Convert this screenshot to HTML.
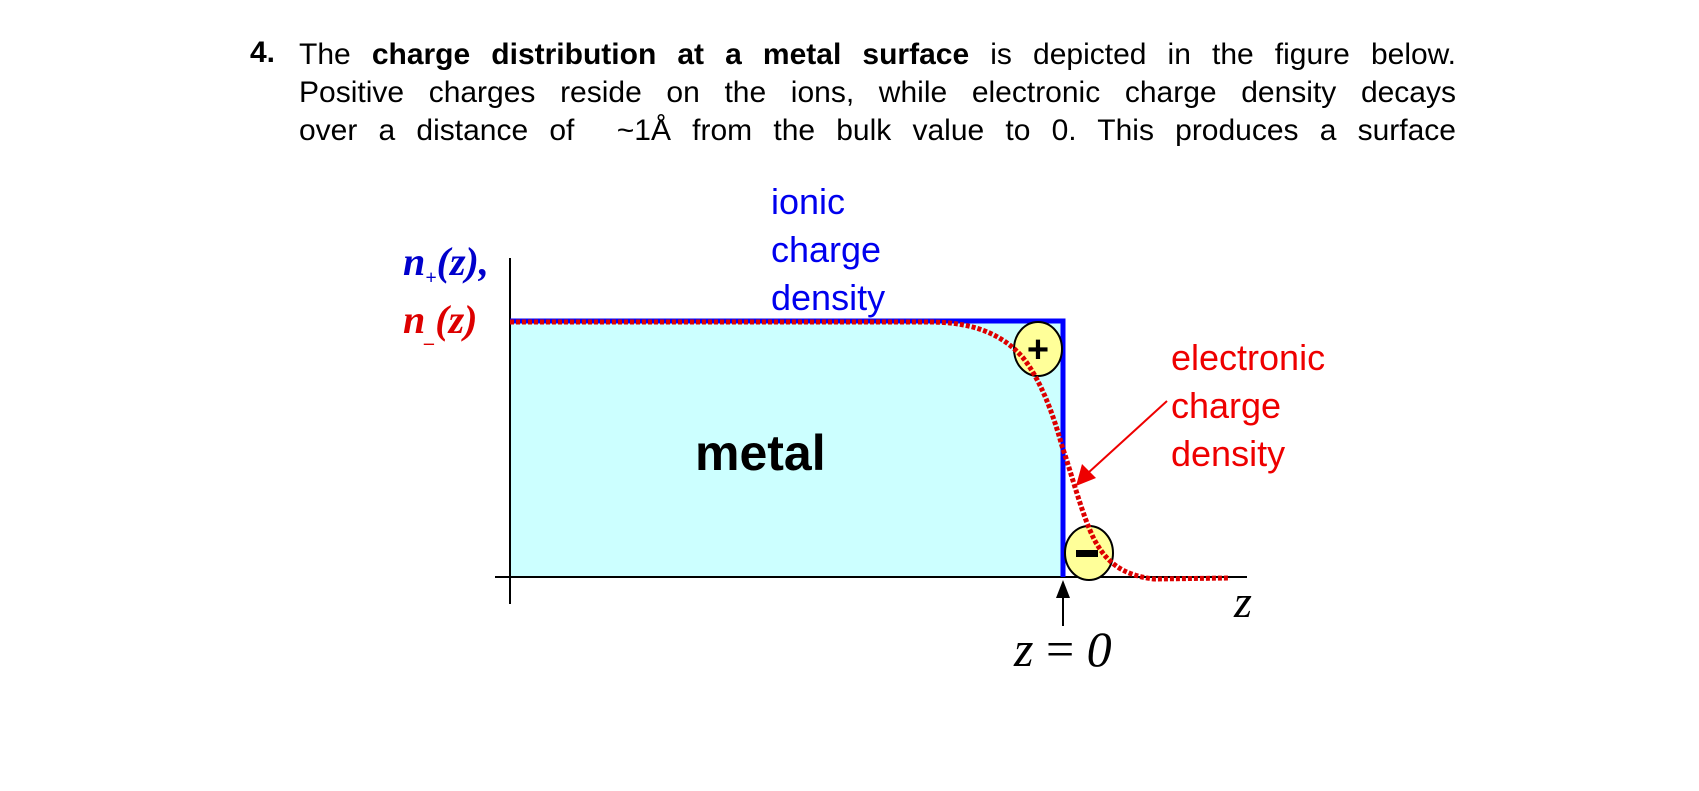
<!DOCTYPE html>
<html><head><meta charset="utf-8"><style>
body{margin:0;width:1699px;height:791px;background:#fff;position:relative;overflow:hidden;font-family:"Liberation Sans",Arial,sans-serif;}
.t{position:absolute;left:299px;width:1157px;font-size:30px;line-height:38px;text-align:justify;text-align-last:justify;white-space:nowrap;}
.lab{position:absolute;font-size:36px;line-height:48px;}
.m{position:absolute;font-family:"Liberation Serif",serif;font-style:italic;}
</style></head><body>
<div style="position:absolute;left:250px;top:36px;font-size:30px;font-weight:bold;">4.</div>
<div class="t" style="top:36px;">The <b>charge distribution at a metal surface</b> is depicted in the figure below.</div>
<div class="t" style="top:74px;">Positive charges reside on the ions, while electronic charge density decays</div>
<div class="t" style="top:112px;">over a distance of &nbsp;~1Å from the bulk value to 0. This produces a surface</div>

<svg width="1699" height="791" style="position:absolute;left:0;top:0">
<rect x="510" y="321" width="553" height="256" fill="#ccffff"/>
<line x1="510" y1="258" x2="510" y2="604" stroke="#000" stroke-width="2"/>
<line x1="495" y1="577" x2="1247" y2="577" stroke="#000" stroke-width="2"/>
<polyline points="510,321 1063,321 1063,577" fill="none" stroke="#0000ff" stroke-width="5"/>
<ellipse cx="1038" cy="349" rx="24" ry="27" fill="#ffff99" stroke="#000" stroke-width="2"/>
<text x="1038" y="362" font-size="38" font-weight="bold" text-anchor="middle" font-family="Liberation Sans">+</text>
<ellipse cx="1089" cy="553" rx="24" ry="27" fill="#ffff99" stroke="#000" stroke-width="2"/>
<rect x="1076" y="550" width="22" height="7" fill="#000"/>
<path d="M510,322 L930,322 C965,322 1000,330 1024,359 C1040,380 1052,410 1062,446 C1072,475 1082,515 1094,539 C1105,560 1120,575 1154,579 L1230,578" fill="none" stroke="#dd0000" stroke-width="5" stroke-dasharray="4,2"/>
<line x1="1167" y1="401" x2="1088" y2="473" stroke="#ee0000" stroke-width="2"/>
<polygon points="1076,486 1082,464 1096,478" fill="#ee0000"/>
<line x1="1063" y1="626" x2="1063" y2="595" stroke="#000" stroke-width="2"/>
<polygon points="1063,580 1056,598 1070,598" fill="#000"/>
</svg>

<div class="lab" style="left:771px;top:178px;color:#0000ee;">ionic<br>charge<br>density</div>
<div class="lab" style="left:1171px;top:334px;color:#ee0000;">electronic<br>charge<br>density</div>
<div style="position:absolute;left:695px;top:424px;font-size:50px;font-weight:bold;">metal</div>
<div class="m" style="left:403px;top:238px;font-size:40px;color:#0000cc;font-weight:bold;">n<sub style="font-size:20px">+</sub>(z),</div>
<div class="m" style="left:403px;top:296px;font-size:40px;color:#dd0000;font-weight:bold;">n<sub style="font-size:20px">_</sub>(z)</div>
<div class="m" style="left:1234px;top:575px;font-size:46px;">z</div>
<div class="m" style="left:1014px;top:620px;font-size:50px;">z <span style="font-style:normal">=</span> 0</div>
</body></html>
